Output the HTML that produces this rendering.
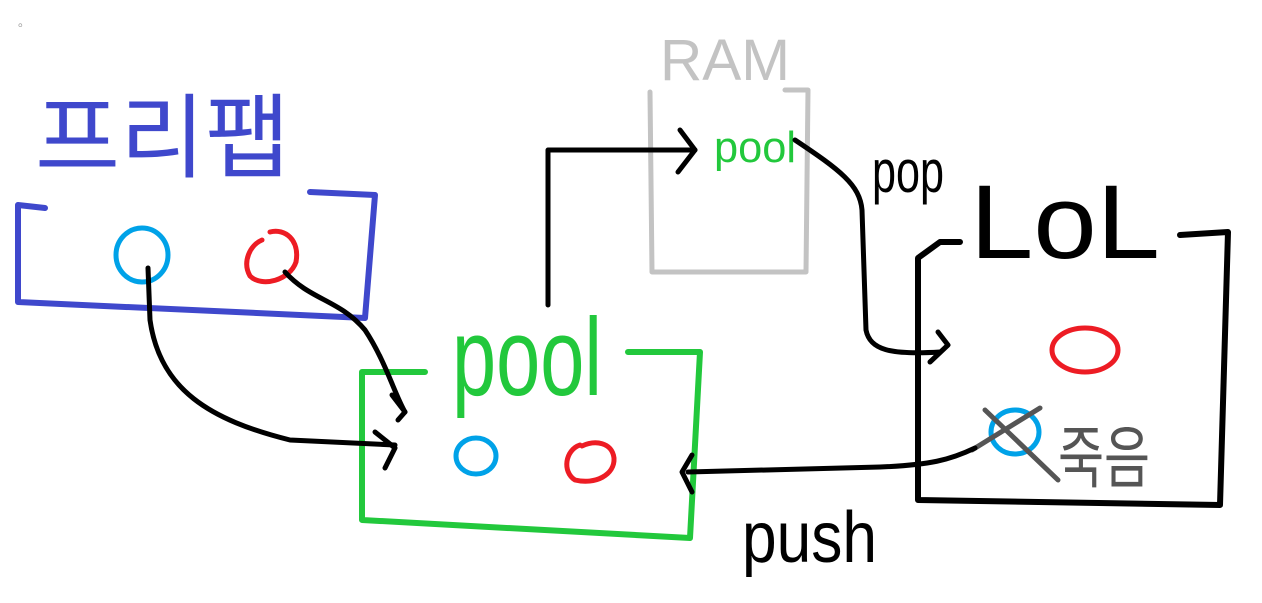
<!DOCTYPE html>
<html><head><meta charset="utf-8"><style>
html,body{margin:0;padding:0;background:#fff;}
svg{display:block;}
text{font-family:"Liberation Sans","Noto Sans CJK KR",sans-serif;}
</style></head><body>
<svg width="1262" height="603" viewBox="0 0 1262 603" xmlns="http://www.w3.org/2000/svg" fill="none" stroke-linecap="round" stroke-linejoin="round">
<text x="18" y="26" font-size="12" fill="#999" stroke="none">。</text>
<!-- Prefab -->
<text x="35" y="170" font-size="92" fill="#3f48cc" stroke="none" textLength="255" lengthAdjust="spacingAndGlyphs">프리팹</text>
<path d="M45,208 L18,205 L18,302 L365,318 L375,195 L310,192" stroke="#3f48cc" stroke-width="6"/>
<ellipse cx="142" cy="255" rx="26" ry="27" stroke="#00a2e8" stroke-width="5"/>
<path d="M262,240 C250,245 242,262 250,276 C262,288 290,280 296,262 C300,240 285,228 270,232" stroke="#ed1c24" stroke-width="5"/>
<!-- RAM -->
<text x="660" y="80" font-size="58" fill="#c3c3c3" stroke="none" textLength="130" lengthAdjust="spacingAndGlyphs">RAM</text>
<path d="M650,92 L652,272 L806,272 L808,90 L785,90" stroke="#c3c3c3" stroke-width="5"/>
<text x="714" y="162" font-size="44" fill="#22c83c" stroke="none" textLength="82" lengthAdjust="spacingAndGlyphs">pool</text>
<!-- Pool -->
<text x="452" y="395" font-size="110" fill="#22c83c" stroke="none" textLength="150" lengthAdjust="spacingAndGlyphs">pool</text>
<path d="M425,372 L362,372 L362,520 L690,538 L700,352 L628,352" stroke="#22c83c" stroke-width="6"/>
<ellipse cx="476" cy="456" rx="20" ry="18" stroke="#00a2e8" stroke-width="5"/>
<path d="M580,445 C565,450 562,472 575,480 C595,485 615,475 614,458 C612,442 595,440 582,446" stroke="#ed1c24" stroke-width="5"/>
<!-- LoL -->
<text x="970" y="258" font-size="105" fill="#000" stroke="none" textLength="190" lengthAdjust="spacingAndGlyphs">LoL</text>
<path d="M960,242 L940,242 L918,258 L918,500 L1220,505 L1228,232 L1180,235" stroke="#000" stroke-width="6"/>
<ellipse cx="1085" cy="350" rx="33" ry="22" stroke="#ed1c24" stroke-width="5"/>
<ellipse cx="1015" cy="432" rx="24" ry="22" stroke="#00a2e8" stroke-width="5"/>
<path d="M985,410 L1058,480 M1040,408 L972,450" stroke="#555" stroke-width="5"/>
<text x="1058" y="482" font-size="68" fill="#555" stroke="none" textLength="92" lengthAdjust="spacingAndGlyphs">죽음</text>
<!-- black connectors -->
<path d="M548,305 L548,150 L695,150" stroke="#000" stroke-width="5"/>
<path d="M680,130 L695,150 L678,172" stroke="#000" stroke-width="5"/>
<path d="M795,140 C840,170 860,185 862,210 L866,330 C870,350 890,355 940,352" stroke="#000" stroke-width="5"/>
<path d="M938,332 L948,345 L930,362" stroke="#000" stroke-width="5"/>
<text x="872" y="192" font-size="60" fill="#000" stroke="none" textLength="72" lengthAdjust="spacingAndGlyphs">pop</text>
<path d="M975,448 C950,460 930,465 880,467 L688,472" stroke="#000" stroke-width="5"/>
<path d="M692,455 L682,472 L692,492" stroke="#000" stroke-width="5"/>
<text x="742" y="562" font-size="72" fill="#000" stroke="none" textLength="135" lengthAdjust="spacingAndGlyphs">push</text>
<path d="M148,268 L150,320 C160,390 210,420 290,440 L395,445" stroke="#000" stroke-width="5"/>
<path d="M375,432 L395,448 L385,468" stroke="#000" stroke-width="5"/>
<path d="M285,272 C310,300 340,300 365,330 C385,360 395,395 405,412" stroke="#000" stroke-width="5"/>
<path d="M392,395 L405,412 L398,420" stroke="#000" stroke-width="5"/>
</svg>
</body></html>
